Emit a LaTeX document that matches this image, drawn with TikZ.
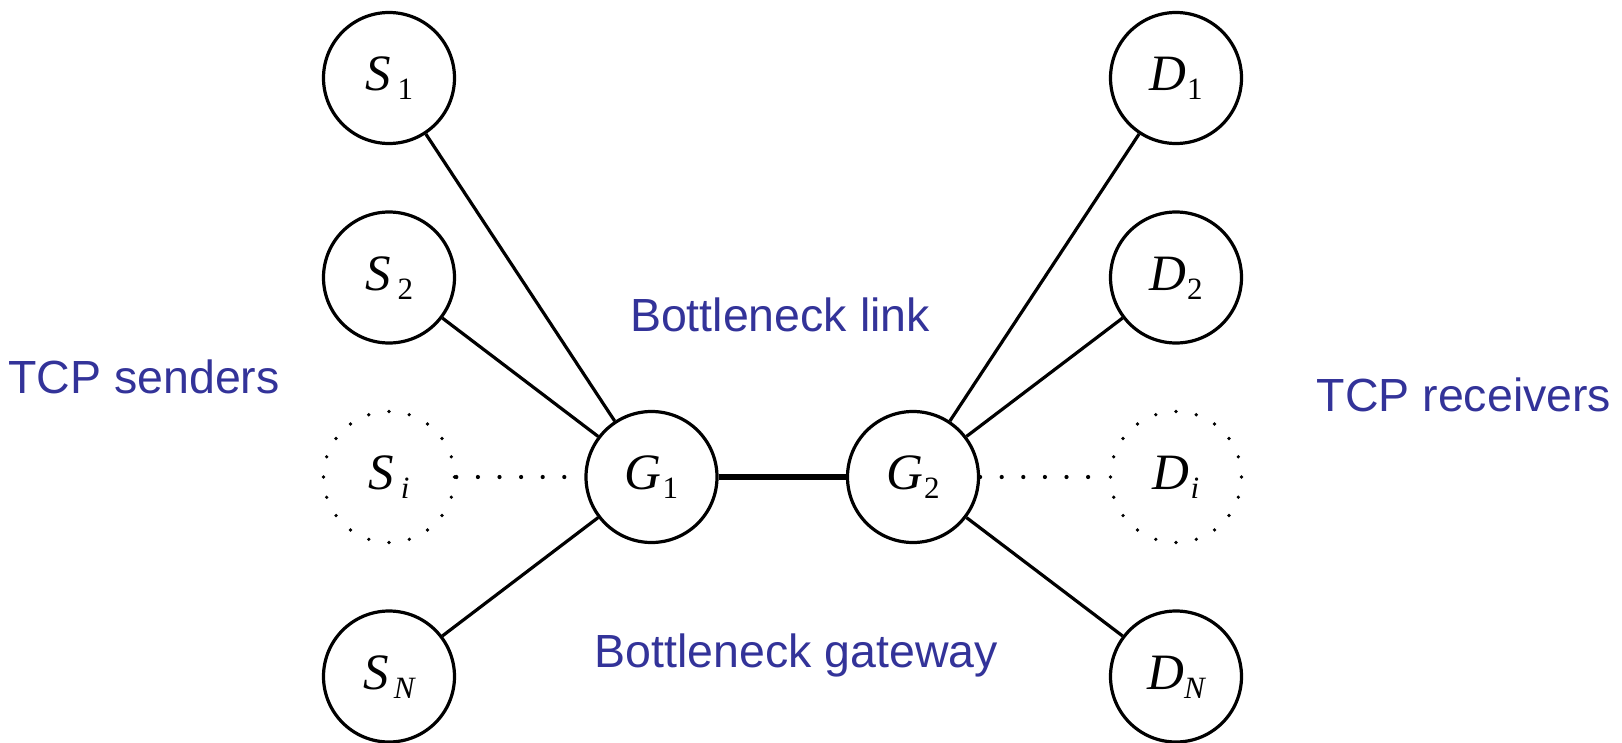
\documentclass[tikz,border=0pt]{standalone}
\usepackage{fontspec}
\setmainfont{Liberation Serif}
\newfontfamily\labsans{Liberation Sans}
\definecolor{txtblue}{RGB}{51,51,153}
\newcommand\nlab[3][0pt]{{\itshape #2}\kern#1\raisebox{-9pt}{\fontsize{31}{31}\selectfont #3}}
\tikzset{
  host/.style={circle, draw, line width=3.2pt, minimum size=131pt, inner sep=0pt,
    font=\fontsize{51}{51}\selectfont, text height=35pt, text depth=10pt},
  ghost/.style={host, line width=3.6pt, dash pattern=on 0pt off 20.58pt, line cap=round},
  link/.style={line width=3.2pt},
  blink/.style={line width=6pt},
  dotlink/.style={line width=4.2pt, line cap=round, dash pattern=on 0pt off 21.6pt},
  caption/.style={font=\labsans\fontsize{46.5}{46.5}\selectfont, text=txtblue,
    inner sep=0pt, anchor=base}
}
\begin{document}
\begin{tikzpicture}[x=1pt,y=-1pt]
\useasboundingbox (0,0) rectangle (1622,742);
% senders
\node[host]  (S1) at (389,78)    {\nlab[7pt]{S}{1}};
\node[host]  (S2) at (389,277.5) {\nlab[7pt]{S}{2}};
\node[ghost] (Si) at (389,477)   {\nlab[7pt]{S}{\itshape i}};
\node[host]  (SN) at (389,676.5) {\nlab[5pt]{S}{\itshape N}};
% gateways
\node[host]  (G1) at (651.5,477) {\nlab[1pt]{G}{1}};
\node[host]  (G2) at (913,477)   {\nlab[1pt]{G}{2}};
% receivers
\node[host]  (D1) at (1176,78)    {\nlab[1pt]{D}{1}};
\node[host]  (D2) at (1176,277.5) {\nlab[1pt]{D}{2}};
\node[ghost] (Di) at (1176,477)   {\nlab[1pt]{D}{\itshape i}};
\node[host]  (DN) at (1176,676.5) {\nlab[0pt]{D}{\itshape N}};
% connectors
\draw[link] (S1) -- (G1);
\draw[link] (S2) -- (G1);
\draw[link] (SN) -- (G1);
\draw[dotlink] (Si) -- (G1);
\draw[blink] (G1) -- (G2);
\draw[link] (G2) -- (D1);
\draw[link] (G2) -- (D2);
\draw[link] (G2) -- (DN);
\draw[dotlink] (G2) -- (Di);
% captions
\node[caption] (senders)   at (144,393)   {TCP senders};
\node[caption] (receivers) at (1464,411)  {TCP receivers};
\node[caption] (blinklab)  at (780,331)   {Bottleneck link};
\node[caption] (bgate)     at (796.5,667) {Bottleneck gateway};
\end{tikzpicture}
\end{document}
